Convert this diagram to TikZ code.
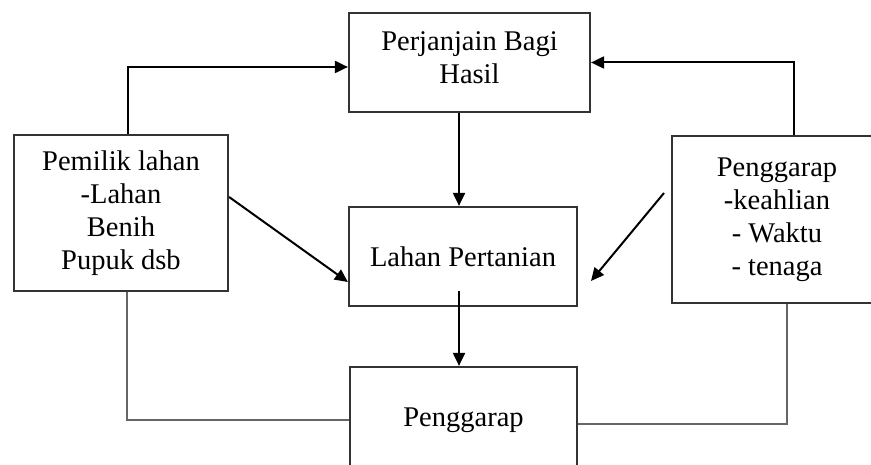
\documentclass[tikz,border=0pt]{standalone}
\usepackage{fontspec}
\setmainfont{Liberation Serif}
\usepackage{tikz}
\usetikzlibrary{arrows.meta,positioning}

\begin{document}
\begin{tikzpicture}[x=1pt, y=-1pt,
    every node/.style={font=\fontsize{28.5}{33}\selectfont},
    box/.style={draw=black!80, line width=2.2pt, rectangle, align=center, inner sep=0pt},
    link/.style={line width=2pt, -{Triangle[length=13pt,width=12pt]}},
    plain/.style={draw=black!60, line width=2.2pt}]
    \clip (0,0) rectangle (871,465);

    \node[box, minimum width=241pt, minimum height=99pt] (perjanjian) at (469.5,62.5) {Perjanjain Bagi\\Hasil\\[-23pt]};
    \node[box, minimum width=214pt, minimum height=156pt] (pemilik) at (121,213) {Pemilik lahan\\-Lahan\\Benih\\Pupuk dsb};
    \node[box, minimum width=228pt, minimum height=99pt] (lahan) at (463,256.5) {Lahan Pertanian};
    \node[box, minimum width=210pt, minimum height=167pt] (garap) at (777,219.5) {Penggarap\\-keahlian\\- Waktu\\- tenaga};
    \node[box, minimum width=227pt, minimum height=106pt] (hasil) at (463.5,420) {Penggarap};

    \coordinate (tenagaA) at (664,193);
    \coordinate (tenagaB) at (591,281);

    \draw[link] ([xshift=7pt]pemilik.north) |- ([yshift=-4.5pt]perjanjian.west);
    \draw[link] ([xshift=17pt]garap.north) |- (perjanjian.east);
    \draw[link] ([xshift=-10.5pt]perjanjian.south) -- ([xshift=-4pt]lahan.north);
    \draw[link] ([xshift=-4pt,yshift=16pt]lahan.south) -- ([xshift=-4.5pt]hasil.north);
    \draw[link] ([yshift=16pt]pemilik.east) -- ([yshift=-25.5pt]lahan.west);
    \draw[link] (tenagaA) -- (tenagaB);

    \draw[plain] ([xshift=6pt]pemilik.south) |- (hasil.west);
    \draw[plain] ([xshift=10pt]garap.south) |- ([yshift=-4pt]hasil.east);
\end{tikzpicture}
\end{document}
